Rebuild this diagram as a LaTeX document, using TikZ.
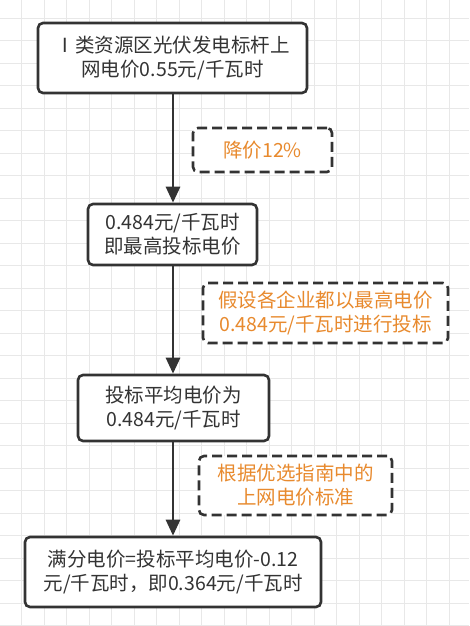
\documentclass[tikz,border=0pt]{standalone}
\usepackage{fontspec}
\newfontfamily\cjk{Noto Sans CJK SC}
\usetikzlibrary{arrows.meta}
\definecolor{gridc}{HTML}{E8E8E8}
\definecolor{boxc}{HTML}{333333}
\definecolor{orangec}{HTML}{E88A2E}
\tikzset{
  mainbox/.style={draw=boxc, line width=2.6pt, rounded corners=5pt, fill=white,
    text=boxc, align=center, inner sep=0pt, font=\cjk\fontsize{19.5}{24}\selectfont},
  notebox/.style={draw=boxc, line width=2.6pt, rounded corners=5pt, dash pattern=on 10pt off 5pt,
    fill=white, text=orangec, align=center, inner sep=0pt, font=\cjk\fontsize{19.5}{24}\selectfont},
  arr/.style={draw=boxc, line width=2.8pt, -{Triangle[length=16pt,width=14pt]}}
}
\begin{document}
\begin{tikzpicture}[x=1pt,y=-1pt]
\useasboundingbox (0,0) rectangle (469,626);
\fill[white] (0,0) rectangle (469,626);
\foreach \i in {0,...,21} {
  \draw[gridc, line width=1pt] ({-0.8+22.5*\i},0) -- ({-0.8+22.5*\i},626);
}
\foreach \j in {0,...,28} {
  \draw[gridc, line width=1pt] (0,{-4.2+22.5*\j}) -- (469,{-4.2+22.5*\j});
}
\node[mainbox, minimum width=269pt, minimum height=70pt] (b1) at (172.5,58) {Ⅰ类资源区光伏发电标杆上\\网电价0.55元/千瓦时};
\node[mainbox, minimum width=169pt, minimum height=61pt] (b2) at (172.5,234.5) {0.484元/千瓦时\\即最高投标电价};
\node[mainbox, minimum width=191pt, minimum height=66pt] (b3) at (173.5,408) {投标平均电价为\\0.484元/千瓦时};
\node[mainbox, minimum width=296pt, minimum height=70pt] (b4) at (173,572) {满分电价=投标平均电价-0.12\\元/千瓦时，即0.364元/千瓦时};
\node[notebox, minimum width=139pt, minimum height=44pt] (n1) at (262.5,150) {降价12\%};
\node[notebox, minimum width=245pt, minimum height=60pt] (n2) at (325.5,313) {假设各企业都以最高电价\\0.484元/千瓦时进行投标};
\node[notebox, minimum width=193pt, minimum height=59pt] (n3) at (295.5,485.5) {根据优选指南中的\\上网电价标准};
\coordinate (a1) at (173,0);
\draw[arr] (b1.south -| a1) -- (b2.north -| a1);
\draw[arr] (b2.south -| a1) -- (b3.north -| a1);
\draw[arr] (b3.south -| a1) -- (b4.north -| a1);
\end{tikzpicture}
\end{document}
